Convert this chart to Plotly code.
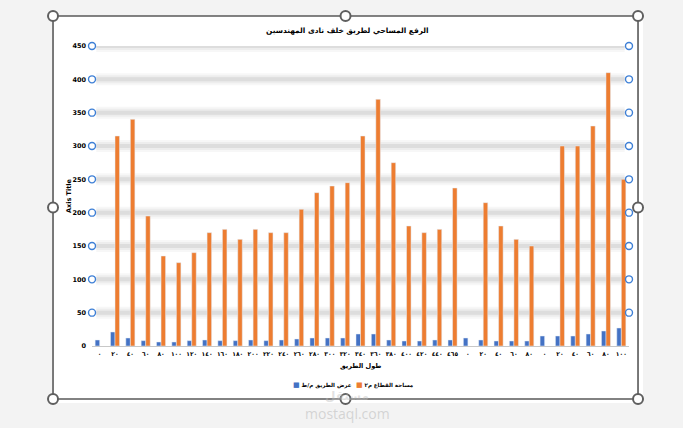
import plotly.graph_objects as go

# ---- data ----
categories = ["٠", "٢٠", "٤٠", "٦٠", "٨٠", "١٠٠", "١٢٠", "١٤٠", "١٦٠", "١٨٠",
              "٢٠٠", "٢٢٠", "٢٤٠", "٢٦٠", "٢٨٠", "٣٠٠", "٣٢٠", "٣٤٠", "٣٦٠", "٣٨٠",
              "٤٠٠", "٤٢٠", "٤٤٠", "٤٦٥", "٠", "٢٠", "٤٠", "٦٠", "٨٠",
              "٠", "٢٠", "٤٠", "٦٠", "٨٠", "١٠٠"]
road_width = [9, 21, 12, 8, 6, 6, 8, 9, 8, 8,
              9, 8, 9, 10.5, 12, 12, 12, 18, 18, 9,
              7.5, 7.5, 9, 9, 12, 9, 7.5, 7.5, 7.5,
              15, 15, 15, 18, 22.5, 27]
section_area = [None, 315, 340, 195, 135, 125, 140, 170, 175, 160,
                175, 170, 170, 205, 230, 240, 245, 315, 370, 275,
                180, 170, 175, 237, None, 215, 180, 160, 150,
                None, 300, 300, 330, 410, 250]
y_ticks = [0, 50, 100, 150, 200, 250, 300, 350, 400, 450]

name_width = "عرض الطريق م/ط"
name_area = "مساحة القطاع م٢"
chart_title = "الرفع المساحي لطريق خلف نادى المهندسين"
x_title = "طول الطريق"
y_title = "Axis Title"

BLUE = "#4472C4"
ORANGE = "#ED7D31"
FONT = "DejaVu Sans"

x_pos = list(range(len(categories)))

fig = go.Figure()
fig.add_trace(go.Bar(x=x_pos, y=road_width, name=name_width, marker_color=BLUE,
                     showlegend=False))
fig.add_trace(go.Bar(x=x_pos, y=section_area, name=name_area, marker_color=ORANGE,
                     showlegend=False))

# gridline end handles (selected gridlines in Excel)
grid_vals = [v for v in y_ticks if v > 0]
x_lo, x_hi = -0.5, len(categories) - 0.5
for xe in (x_lo, x_hi):
    fig.add_trace(go.Scatter(x=[xe] * len(grid_vals), y=grid_vals, mode="markers",
                             showlegend=False, hoverinfo="skip", cliponaxis=False,
                             marker=dict(symbol="circle-open", size=7,
                                         color="#3d7fd6", line=dict(width=1.4))))

shapes = []
# white chart area & frame
shapes.append(dict(type="rect", xref="paper", yref="paper", x0=-0.0745, x1=1.026,
                   y0=-0.19, y1=1.1, fillcolor="white", line=dict(width=0), layer="below"))
# soft gridline bands
for v in grid_vals:
    for w, c in ((12, "rgba(215,215,215,0.2)"), (8, "rgba(215,215,215,0.3)"),
                 (4, "rgba(208,208,208,0.55)")):
        shapes.append(dict(type="line", xref="paper", yref="y", x0=0.008, x1=0.992,
                           y0=v, y1=v, line=dict(color=c, width=w), layer="below"))
shapes.append(dict(type="rect", xref="paper", yref="paper", x0=-0.0726, x1=1.0168,
                   y0=-0.1767, y1=1.1, line=dict(color="#595959", width=1.6),
                   fillcolor="rgba(0,0,0,0)"))
# selection handles
hx = [-0.0726, 0.4721, 1.0168]
hy = [1.1, 0.4617, -0.1767]
for i, xx in enumerate(hx):
    for j, yy in enumerate(hy):
        if i == 1 and j == 1:
            continue
        shapes.append(dict(type="circle", xref="paper", yref="paper",
                           xsizemode="pixel", ysizemode="pixel",
                           xanchor=xx, yanchor=yy, x0=-5, x1=5, y0=-5, y1=5,
                           fillcolor="white", line=dict(color="#5f5f5f", width=2)))

bold = dict(family=FONT, size=6.5, color="#000", weight="bold")
xtick_font = dict(family=FONT, size=6, color="#000", weight="bold")
legend_font = dict(family=FONT, size=5.5, color="#000", weight="bold")
annotations = [
    dict(text=chart_title, xref="paper", yref="paper", x=0.475, y=1.053,
         xanchor="center", yanchor="middle", showarrow=False,
         font=dict(family=FONT, size=7.4, color="#000", weight="bold")),
    dict(text=y_title, xref="paper", yref="paper", x=-0.0428, y=0.5, textangle=-90,
         xanchor="center", yanchor="middle", showarrow=False, font=bold),
    dict(text=x_title, xref="paper", yref="paper", x=0.5, y=-0.068,
         xanchor="center", yanchor="middle", showarrow=False, font=bold),
    # legend (Excel style: small square + text)
    dict(text=f'<span style="color:{BLUE};font-size:7px">■</span> {name_width}',
         xref="paper", yref="paper", x=0.371, y=-0.13, xanchor="left", yanchor="middle",
         showarrow=False, font=legend_font),
    dict(text=f'<span style="color:{ORANGE};font-size:7px">■</span> {name_area}',
         xref="paper", yref="paper", x=0.488, y=-0.13, xanchor="left", yanchor="middle",
         showarrow=False, font=legend_font),
    # watermark
    dict(text="مستقل", xref="paper", yref="paper", x=0.475, y=-0.168,
         xanchor="center", yanchor="middle", showarrow=False,
         font=dict(family=FONT, size=12, color="rgba(190,190,190,0.45)", weight="bold")),
    dict(text="mostaql.com", xref="paper", yref="paper", x=0.475, y=-0.226,
         xanchor="center", yanchor="middle", showarrow=False,
         font=dict(family="Open Sans", size=14, color="rgba(190,190,190,0.6)")),
]

fig.update_layout(
    width=683, height=428,
    margin=dict(l=92, r=54, t=46, b=82),
    paper_bgcolor="#f3f3f3", plot_bgcolor="rgba(0,0,0,0)",
    barmode="group", bargap=0.41, bargroupgap=0,
    shapes=shapes, annotations=annotations,
    font=dict(family=FONT, color="#000"),
    showlegend=False,
    xaxis=dict(range=[x_lo, x_hi], tickmode="array", tickvals=x_pos, ticktext=categories,
               tickfont=xtick_font, tickangle=0,
               showgrid=False, zeroline=False, showline=True, linecolor="#c8c8c8",
               linewidth=1, ticks="", ticklabelstandoff=2),
    yaxis=dict(range=[0, 450], tickmode="array", tickvals=y_ticks,
               tickfont=bold,
               showgrid=False, zeroline=False, showline=False, ticks="",
               ticklabelstandoff=5),
)

fig.write_html("out.html",
               config={"displayModeBar": False},
               post_script="document.body.style.margin='0';"
                           "document.body.style.overflow='hidden';"
                           "document.body.style.background='#f3f3f3';")
